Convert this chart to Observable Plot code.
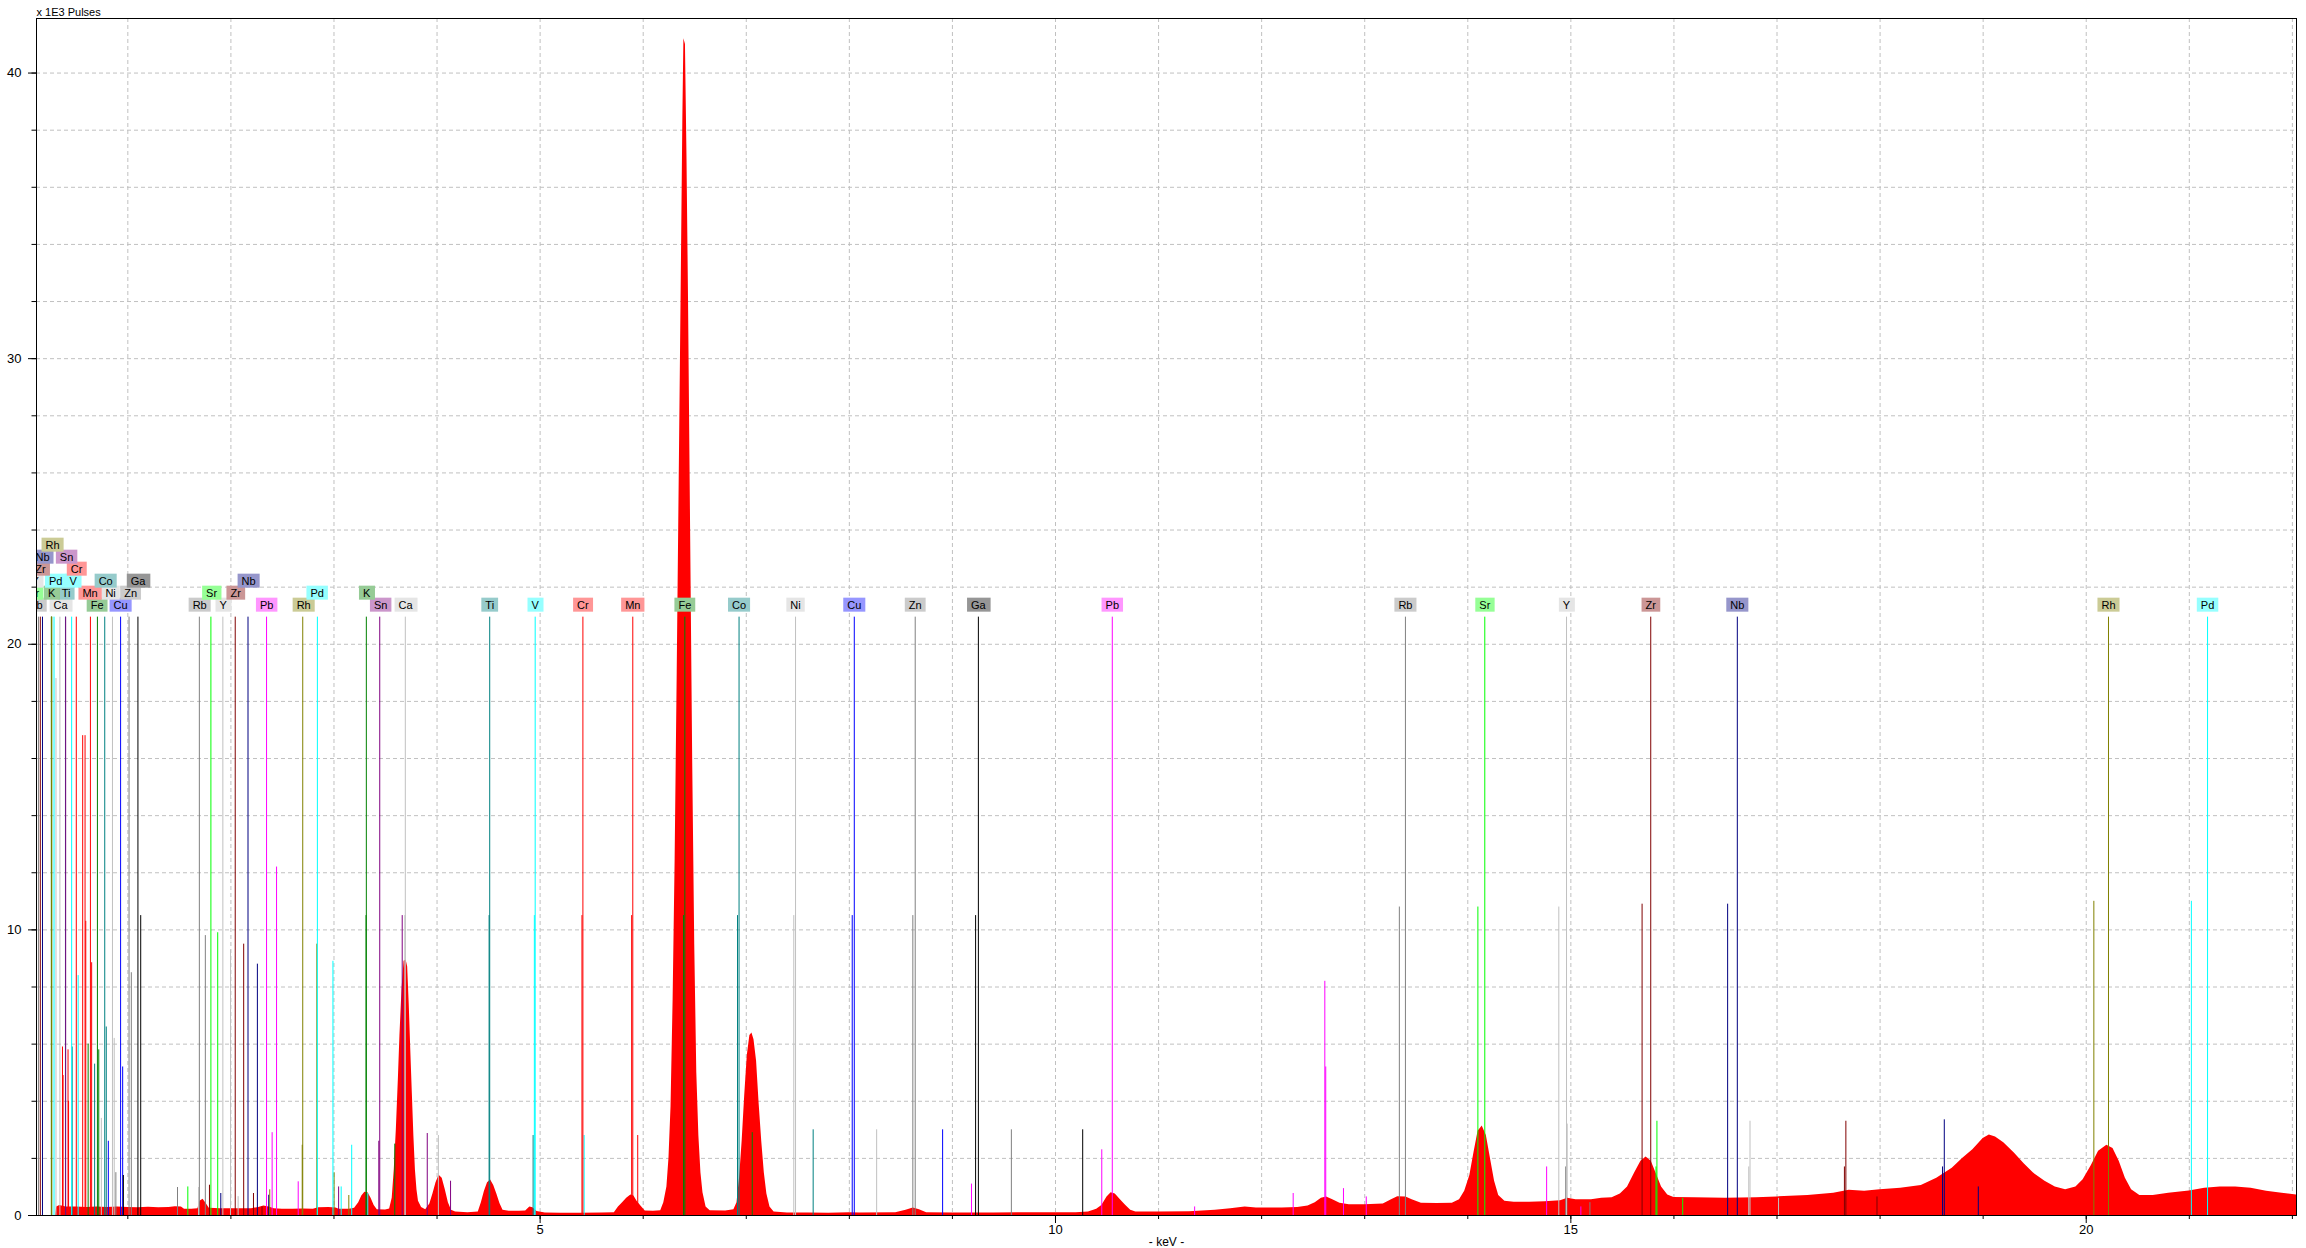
<!DOCTYPE html>
<html><head><meta charset="utf-8">
<script src="https://cdn.jsdelivr.net/npm/d3@7"></script>
<script src="https://cdn.jsdelivr.net/npm/@observablehq/plot@0.6"></script>
<style>
html,body{margin:0;padding:0;background:#fff;}
#chart{position:relative;width:2306px;height:1248px;}
</style></head><body><div id="chart"></div>
<script>
// ---- spectrum (keV, x1000 pulses)
const specKeV = [0.114,0.30,0.31,0.34,0.40,0.50,0.60,0.70,0.80,0.90,1.00,1.10,1.20,1.30,1.40,1.46,1.52,1.55,1.62,1.68,1.70,1.73,1.76,1.79,1.90,2.00,2.10,2.20,2.27,2.32,2.37,2.42,2.50,2.60,2.70,2.80,2.85,2.95,3.02,3.05,3.15,3.20,3.24,3.27,3.30,3.33,3.36,3.39,3.42,3.50,3.54,3.565,3.585,3.605,3.625,3.64,3.66,3.68,3.70,3.715,3.73,3.745,3.76,3.775,3.79,3.805,3.82,3.85,3.89,3.93,3.96,3.99,4.02,4.05,4.08,4.11,4.14,4.18,4.30,4.40,4.43,4.46,4.49,4.52,4.55,4.58,4.61,4.64,4.70,4.80,4.86,4.90,4.93,4.97,5.05,5.20,5.40,5.60,5.72,5.76,5.80,5.84,5.88,5.91,5.94,5.98,6.02,6.10,6.17,6.20,6.23,6.25,6.27,6.29,6.31,6.33,6.35,6.37,6.385,6.395,6.41,6.425,6.44,6.46,6.48,6.50,6.52,6.54,6.56,6.58,6.61,6.65,6.80,6.88,6.91,6.935,6.96,6.985,7.01,7.035,7.055,7.075,7.10,7.125,7.15,7.175,7.20,7.23,7.27,7.40,7.60,7.80,8.00,8.10,8.45,8.55,8.62,8.68,8.75,9.00,9.40,9.80,10.20,10.32,10.40,10.45,10.50,10.54,10.58,10.63,10.68,10.73,10.78,11.00,11.30,11.55,11.70,11.84,11.95,12.20,12.35,12.45,12.52,12.58,12.63,12.69,12.76,12.85,13.00,13.18,13.26,13.32,13.40,13.46,13.55,13.70,13.85,13.92,13.97,14.02,14.06,14.10,14.14,14.18,14.22,14.26,14.30,14.36,14.45,14.60,14.75,14.90,14.97,15.05,15.20,15.30,15.40,15.48,15.55,15.62,15.68,15.73,15.78,15.83,15.88,15.94,16.00,16.20,16.50,16.80,17.00,17.30,17.55,17.70,17.85,18.00,18.20,18.40,18.55,18.70,18.80,18.90,19.00,19.06,19.12,19.20,19.30,19.40,19.50,19.60,19.70,19.80,19.90,19.97,20.05,20.12,20.20,20.26,20.32,20.38,20.44,20.52,20.65,20.80,21.00,21.15,21.30,21.45,21.60,21.75,21.90,22.04];
const specPulses = [0,0,0.3,0.35,0.3,0.3,0.28,0.3,0.28,0.3,0.28,0.27,0.29,0.27,0.28,0.31,0.3,0.22,0.22,0.24,0.5,0.57,0.42,0.25,0.24,0.24,0.24,0.24,0.28,0.33,0.3,0.24,0.22,0.22,0.23,0.22,0.27,0.28,0.26,0.22,0.22,0.25,0.45,0.68,0.81,0.8,0.6,0.35,0.2,0.19,0.23,0.6,1.6,3.0,4.8,6.3,7.9,8.9,8.95,8.7,7.4,5.8,4.3,2.8,1.6,0.9,0.5,0.28,0.2,0.4,0.75,1.15,1.41,1.3,0.9,0.45,0.18,0.12,0.1,0.12,0.45,0.85,1.15,1.24,1.05,0.75,0.42,0.18,0.15,0.15,0.16,0.3,0.27,0.14,0.09,0.08,0.08,0.09,0.1,0.3,0.45,0.6,0.72,0.68,0.5,0.32,0.16,0.15,0.17,0.45,1.0,2.0,3.8,7.5,12.5,19,26,33,38.5,41.2,41.0,37,32,24,16,9.5,5.0,2.8,1.5,0.8,0.3,0.17,0.16,0.2,0.45,1.3,2.6,4.2,5.6,6.3,6.39,6.15,5.4,3.9,2.6,1.5,0.75,0.3,0.12,0.09,0.09,0.08,0.1,0.09,0.1,0.18,0.26,0.2,0.1,0.09,0.09,0.1,0.1,0.12,0.22,0.35,0.65,0.8,0.75,0.55,0.36,0.18,0.12,0.12,0.13,0.18,0.24,0.3,0.26,0.26,0.28,0.33,0.45,0.6,0.65,0.55,0.43,0.38,0.38,0.4,0.55,0.66,0.65,0.55,0.43,0.42,0.43,0.55,0.85,1.4,2.2,2.95,3.13,2.8,2.0,1.2,0.7,0.5,0.46,0.46,0.48,0.52,0.6,0.55,0.55,0.6,0.62,0.75,1.0,1.5,1.9,2.05,1.9,1.45,1.0,0.72,0.63,0.62,0.6,0.62,0.65,0.7,0.78,0.88,0.85,0.9,0.95,1.05,1.3,1.65,2.0,2.3,2.7,2.82,2.75,2.55,2.2,1.8,1.45,1.2,1.0,0.9,1.0,1.25,1.75,2.25,2.46,2.35,1.9,1.3,0.9,0.7,0.7,0.78,0.86,0.95,1.0,1.0,0.95,0.85,0.78,0.72];

// ---- elements and their marker colours
const elementNames  = ["K","Ca","Ti","V","Cr","Mn","Fe","Co","Ni","Cu","Zn","Ga","Rb","Sr","Y","Zr","Nb","Rh","Pd","Sn","Pb"];
const elementColors = ["#008000","#c0c0c0","#008080","#00ffff","#ff0000","#ff0000","#008000","#008080","#c0c0c0","#0000ff","#808080","#000000","#808080","#00ff00","#c0c0c0","#800000","#000080","#808000","#00ffff","#800080","#ff00ff"];

// ---- element marker lines: [element, keV, height (x1000 pulses)]
const markerLines = [
 ["K",3.314,20.95],["K",3.311,10.5],["K",3.590,2.5],["K",0.258,20.95],["K",0.262,20.95],
 ["Ca",3.692,20.95],["Ca",3.688,10.5],["Ca",4.013,2.8],["Ca",0.341,20.95],["Ca",0.303,18.8],
 ["Ti",4.511,20.95],["Ti",4.505,10.5],["Ti",4.932,2.8],["Ti",0.395,20.95],["Ti",0.460,5.9],
 ["V",4.952,20.95],["V",4.944,10.5],["V",5.427,2.8],["V",0.455,20.95],["V",0.518,8.4],
 ["Cr",5.415,20.95],["Cr",5.406,10.5],["Cr",5.947,2.8],["Cr",0.500,20.95],["Cr",0.562,16.8],["Cr",0.585,16.8],["Cr",0.592,10.3],["Cr",0.366,5.9],["Cr",0.420,5.8],
 ["Mn",5.899,20.95],["Mn",5.888,10.5],["Mn",6.490,2.8],["Mn",0.637,20.95],["Mn",0.649,8.85],["Mn",0.372,4.9],["Mn",0.425,4.0],
 ["Fe",6.404,20.95],["Fe",6.391,10.5],["Fe",7.058,2.9],["Fe",0.705,20.95],["Fe",0.718,5.8],["Fe",0.615,6.0],
 ["Co",6.930,20.95],["Co",6.915,10.5],["Co",7.649,3.0],["Co",0.776,20.95],["Co",0.791,6.6],["Co",0.678,5.3],
 ["Ni",7.478,20.95],["Ni",7.461,10.5],["Ni",8.265,3.0],["Ni",0.851,20.95],["Ni",0.868,6.2],["Ni",0.743,3.4],
 ["Cu",8.048,20.95],["Cu",8.028,10.5],["Cu",8.905,3.0],["Cu",0.930,20.95],["Cu",0.950,5.2],["Cu",0.811,2.6],
 ["Zn",8.639,20.95],["Zn",8.616,10.5],["Zn",9.572,3.0],["Zn",1.012,20.95],["Zn",1.034,8.5],["Zn",0.884,1.5],
 ["Ga",9.252,20.95],["Ga",9.225,10.5],["Ga",10.264,3.0],["Ga",1.098,20.95],["Ga",1.125,10.5],["Ga",0.957,1.4],
 ["Rb",13.395,20.95],["Rb",13.336,10.8],["Rb",14.961,3.2],["Rb",14.950,1.7],["Rb",15.185,0.45],["Rb",1.694,20.95],["Rb",1.752,9.8],["Rb",1.482,0.98],["Rb",0.133,20.95],
 ["Sr",14.165,20.95],["Sr",14.098,10.8],["Sr",15.835,3.3],["Sr",15.826,1.7],["Sr",16.085,0.6],["Sr",1.806,20.95],["Sr",1.872,9.9],["Sr",1.582,1.0],
 ["Y",14.958,20.95],["Y",14.883,10.8],["Y",16.738,3.3],["Y",16.726,1.7],["Y",17.015,0.6],["Y",1.922,20.95],["Y",1.996,9.3],["Y",1.686,0.98],["Y",2.070,0.66],
 ["Zr",15.775,20.95],["Zr",15.691,10.9],["Zr",17.668,3.3],["Zr",17.654,1.7],["Zr",17.970,0.65],["Zr",2.042,20.95],["Zr",2.124,9.5],["Zr",1.792,1.06],["Zr",2.219,0.77],["Zr",2.302,0.3],["Zr",0.151,20.95],
 ["Nb",16.615,20.95],["Nb",16.521,10.9],["Nb",18.623,3.35],["Nb",18.606,1.7],["Nb",18.953,1.0],["Nb",2.166,20.95],["Nb",2.257,8.8],["Nb",1.902,0.77],["Nb",2.367,0.71],["Nb",0.172,20.95],
 ["Rh",20.216,20.95],["Rh",20.074,11.0],["Rh",2.697,20.95],["Rh",2.692,2.46],["Rh",2.834,9.5],["Rh",2.377,0.9],["Rh",3.001,1.5],["Rh",3.144,0.7],["Rh",0.260,20.95],
 ["Pd",21.177,20.95],["Pd",21.020,11.0],["Pd",2.839,20.95],["Pd",2.990,8.9],["Pd",3.172,2.46],["Pd",3.328,0.77],["Pd",3.070,1.0],["Pd",0.284,20.95],
 ["Sn",3.444,20.95],["Sn",3.435,2.6],["Sn",3.662,10.5],["Sn",3.905,2.87],["Sn",4.131,1.2],["Sn",3.045,1.0],["Sn",0.397,20.95],
 ["Pb",2.346,20.95],["Pb",2.443,12.2],["Pb",2.400,2.9],["Pb",2.653,1.18],["Pb",10.551,20.95],["Pb",10.449,2.3],["Pb",12.613,8.2],["Pb",12.622,5.2],["Pb",14.765,1.7],["Pb",9.185,1.1],["Pb",11.350,0.3],["Pb",12.306,0.77],["Pb",12.794,0.94],["Pb",13.015,0.65],["Pb",15.097,0.3]
];

// ---- element labels
const labelText = ["Rb","Ca","Fe","Cu","Rb","Y","Pb","Rh","Sn","Ca","Ti","V","Cr","Mn","Fe","Co","Ni","Cu","Zn","Ga","Pb","Rb","Sr","Y","Zr","Nb","Rh","Pd",
                   "Sr","K","Ti","Mn","Ni","Zn","Sr","Zr","Pd","K",
                   "Y","Pd","V","Co","Ga","Nb",
                   "Zr","Cr",
                   "Nb","Sn",
                   "Rh"];
const labelKeV  = [0.106,0.348,0.702,0.930,1.697,1.925,2.347,2.706,3.453,3.695,4.511,4.952,5.415,5.899,6.404,6.930,7.478,8.048,8.639,9.252,10.551,13.395,14.165,14.958,15.775,16.615,20.216,21.177,
                   0.086,0.261,0.402,0.634,0.833,1.027,1.813,2.046,2.837,3.317,
                   0.101,0.300,0.470,0.785,1.100,2.172,
                   0.152,0.503,
                   0.172,0.406,
                   0.270];
const labelRow  = [0,0,0,0,0,0,0,0,0,0,0,0,0,0,0,0,0,0,0,0,0,0,0,0,0,0,0,0,
                   1,1,1,1,1,1,1,1,1,1,
                   2,2,2,2,2,2,
                   3,3,
                   4,4,
                   5];

// ---- axes / grid
const xTicksMajor = [5,10,15,20];
const xTicksMinor = [1,2,3,4,5,6,7,8,9,10,11,12,13,14,15,16,17,18,19,20,21,22];
const yTicksMajor = [0,10,20,30,40];
const yTicksMinor = [0,2,4,6,8,10,12,14,16,18,20,22,24,26,28,30,32,34,36,38,40];
const xGrid = [1,2,3,4,5,6,7,8,9,10,11,12,13,14,15,16,17,18,19,20,21,22];
const yGrid = [2,4,6,8,10,12,14,16,18,20,22,24,26,28,30,32,34,36,38,40];
const labelBaseY = 21.37;

const colorOf = new Map(elementNames.map((e, i) => [e, elementColors[i]]));
const pastel = c => d3.interpolateRgb(c, "#ffffff")(0.59);

const spec = specKeV.map((e, i) => ({e, c: specPulses[i]}));
const markers = markerLines.map(([el, e, h]) => ({el, e, h}));
const labels = labelText.map((t, i) => ({t, e: labelKeV[i], row: labelRow[i]}));
const rows = [0,1,2,3,4,5];

const chart = Plot.plot({
  width: 2306, height: 1248,
  marginLeft: 36, marginRight: 10, marginTop: 18, marginBottom: 33,
  x: {domain: [0.114, 22.04], axis: null},
  y: {domain: [0, 41.91], axis: null},
  color: {type: "identity"},
  style: {fontFamily: "'Liberation Sans', Arial, sans-serif", fontSize: "12px", background: "#ffffff", color: "#000"},
  marks: [
    Plot.ruleX(xGrid, {stroke: "#c0c0c0", strokeDasharray: "4,3"}),
    Plot.ruleY(yGrid, {stroke: "#c0c0c0", strokeDasharray: "4,3"}),
    Plot.areaY(spec, {x: "e", y: "c", fill: "#ff0000", curve: "linear", clip: true}),
    Plot.ruleX(markers, {x: "e", y1: 0, y2: "h", stroke: d => colorOf.get(d.el), strokeWidth: 1, clip: true}),
    ...rows.map(r => Plot.text(labels.filter(d => d.row === r), {
      x: "e", y: labelBaseY, dy: -12 * r, text: "t", fill: "#000", fontSize: 11,
      clip: true, ariaDescription: "labels-row-" + r
    })),
    Plot.frame({stroke: "#000"}),
    Plot.axisX(xTicksMinor, {tickSize: 4, tickFormat: () => "", label: null}),
    Plot.axisX(xTicksMajor, {tickSize: 8, tickPadding: 1, label: null, fontSize: 13}),
    Plot.axisY(yTicksMinor, {tickSize: 4.5, tickFormat: () => "", label: null}),
    Plot.axisY(yTicksMajor, {tickSize: 8, tickPadding: 7, label: null, fontSize: 13}),
    Plot.text(["x 1E3 Pulses"], {frameAnchor: "top-left", textAnchor: "start", lineAnchor: "bottom", dy: -3, fontSize: 11}),
    Plot.text(["- keV -"], {frameAnchor: "bottom", lineAnchor: "middle", dy: 27, fontSize: 12})
  ]
});
document.getElementById("chart").append(chart);

// coloured boxes behind the element labels
rows.forEach(r => {
  const g = chart.querySelector(`g[aria-description="labels-row-${r}"]`);
  if (!g) return;
  const rowLabels = labels.filter(d => d.row === r);
  g.querySelectorAll("text").forEach((t, i) => {
    const b = t.getBBox();
    const rect = document.createElementNS("http://www.w3.org/2000/svg", "rect");
    rect.setAttribute("x", b.x - 4);
    rect.setAttribute("width", b.width + 8);
    rect.setAttribute("y", b.y + b.height / 2 - 7);
    rect.setAttribute("height", 14);
    const tr = t.getAttribute("transform");
    if (tr) rect.setAttribute("transform", tr);
    rect.setAttribute("fill", pastel(colorOf.get(rowLabels[i].t)));
    rect.setAttribute("stroke", "none");
    const p = t.parentNode;
    p.insertBefore(rect, p.firstChild);
  });
});
</script></body></html>
